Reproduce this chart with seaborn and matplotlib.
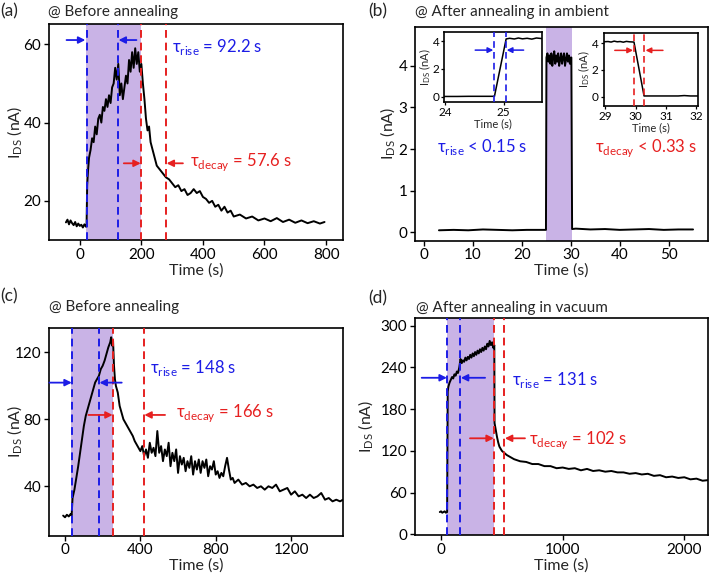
import matplotlib
matplotlib.use("Agg")
import matplotlib.pyplot as plt
import seaborn as sns

# ---------------- data ----------------
# (a) before annealing
t_a = [-45, -40, -35, -30, -25, -20, -15, -10, -5, 0, 5, 10, 15, 20, 22,
       24, 27, 30, 35, 40, 45, 50, 55, 60, 65, 70, 75, 80, 85, 90, 95, 100,
       105, 110, 115, 120, 125, 130, 135, 140, 145, 150, 155, 160, 165, 170,
       175, 180, 185, 190, 195, 200, 205, 210, 215, 220, 225, 230, 240, 250,
       260, 270, 280, 290, 300, 310, 320, 330, 340, 350, 360, 370, 380, 390,
       400, 410, 420, 430, 440, 450, 460, 470, 480, 490, 500, 520, 540, 560,
       580, 600, 620, 640, 660, 680, 700, 720, 740, 760, 780, 795]
i_a = [14.5, 15.2, 14.0, 15.0, 14.3, 13.8, 14.6, 13.5, 14.2, 13.6, 13.9, 13.2, 14.0, 13.4, 13.8,
       24, 28, 31, 33, 36, 35, 39, 37, 41, 42, 40, 44, 43, 46, 44, 47, 45,
       49, 50, 54, 51, 55, 47, 50, 46, 49, 52, 50, 56, 53, 58,
       54, 59, 55, 58, 53, 55, 50, 46, 41, 38, 39, 35, 32, 29,
       28, 27, 26, 25.5, 24.5, 23.5, 24, 22.5, 23, 21.5, 22, 23, 22, 22.5,
       21, 20.5, 19.5, 20, 18.5, 19, 17.5, 18.5, 17, 17.5, 16, 16.5, 15.5, 16,
       15, 15.5, 14.8, 15.6, 14.6, 15.2, 14.4, 15.0, 14.3, 14.8, 14.2, 14.6]

# (b) after annealing in ambient
t_b = [3, 6, 9, 12, 15, 18, 21, 24, 24.9,
       25.0, 25.2, 25.4, 25.6, 25.8, 26.0, 26.2, 26.4, 26.6, 26.8, 27.0, 27.2, 27.4,
       27.6, 27.8, 28.0, 28.2, 28.4, 28.6, 28.8, 29.0, 29.2, 29.4, 29.6, 29.8, 30.0, 30.1,
       30.25, 31, 34, 37, 40, 43, 46, 49, 52, 55]
i_b = [0.05, 0.06, 0.05, 0.07, 0.06, 0.05, 0.06, 0.06, 0.06,
       4.2, 4.3, 4.1, 4.25, 4.05, 4.3, 4.0, 4.2, 4.35, 4.05, 4.25, 4.1, 4.3,
       4.0, 4.15, 4.3, 4.05, 4.2, 4.3, 4.0, 4.15, 4.3, 4.1, 4.25, 4.05, 4.2, 4.2,
       0.08, 0.09, 0.07, 0.08, 0.06, 0.07, 0.08, 0.06, 0.07, 0.07]

# (b) insets: rise and decay edges
t_rise = [23.98, 24.2, 24.4, 24.6, 24.84, 25.04, 25.1, 25.18, 25.25, 25.32, 25.4, 25.48, 25.56, 25.65]
i_rise = [0.02, 0.02, 0.03, 0.03, 0.03, 4.15, 4.2, 4.15, 4.22, 4.16, 4.2, 4.14, 4.22, 4.18]
t_fall = [28.95, 29.1, 29.2, 29.3, 29.4, 29.5, 29.6, 29.7, 29.8, 29.95,
          30.28, 30.6, 31.0, 31.4, 31.6, 31.8, 32.05]
i_fall = [4.1, 4.12, 4.08, 4.15, 4.1, 4.12, 4.07, 4.13, 4.1, 4.08,
          0.05, 0.05, 0.05, 0.05, 0.08, 0.05, 0.05]

# (c) before annealing
t_c = [-10, 0, 10, 20, 30, 35, 40, 50, 60, 70, 80, 90, 100, 110, 120, 130, 140,
       150, 160, 170, 180, 190, 200, 210, 220, 230, 240, 245, 250, 255, 260, 265,
       270, 280, 290, 300, 310, 320, 330, 340, 350, 360, 370, 380, 390, 400,
       410, 420, 430, 440, 450, 460, 470, 480, 490, 500, 510, 520, 530, 540,
       550, 560, 570, 580, 590, 600, 610, 620, 630, 640, 650, 660, 670, 680,
       690, 700, 710, 720, 730, 740, 750, 760, 770, 780, 790, 800, 810, 820,
       830, 840, 850, 860, 870, 880, 890, 900, 920, 940, 960, 980, 1000, 1020,
       1040, 1060, 1080, 1100, 1120, 1140, 1160, 1180, 1200, 1220, 1240, 1260,
       1280, 1300, 1320, 1340, 1360, 1380, 1400, 1420, 1440, 1460, 1475]
i_c = [22.5, 21.5, 23, 22, 23.5, 22.5, 33, 38, 45, 52, 60, 68, 76, 82, 86, 90, 94,
       98, 102, 104, 106, 110, 112, 115, 119, 123, 126, 129, 124, 127, 112, 104,
       100, 96, 88, 84, 80, 78, 76, 74, 72, 70, 67, 65, 63, 61,
       64, 58, 62, 57, 66, 60, 63, 58, 73, 60, 64, 55, 62, 58,
       66, 52, 60, 55, 62, 48, 58, 53, 57, 49, 55, 51, 58, 47,
       55, 50, 56, 48, 55, 51, 56, 46, 52, 50, 55, 47, 49, 45,
       48, 46, 52, 57, 50, 44, 45, 42, 44, 41, 42, 40, 41, 39,
       40, 38, 40, 39, 41, 37, 38, 39, 35, 37, 34, 35,
       33, 35, 33, 34, 36, 32, 33, 31, 32, 31, 32]

# (d) after annealing in vacuum
t_d = [-10, 0, 10, 20, 30, 40, 50, 55, 60, 70, 80, 90, 100, 110, 120, 130, 140,
       150, 160, 170, 180, 190, 200, 210, 220, 230, 240, 250, 260, 270, 280, 290,
       300, 310, 320, 330, 340, 350, 360, 370, 380, 390, 400, 410, 420, 430, 438,
       440, 450, 460, 470, 480, 500, 520, 540, 560, 580, 600, 650, 700, 750, 800,
       850, 900, 950, 1000, 1050, 1100, 1150, 1200, 1250, 1300, 1350, 1400, 1450,
       1500, 1550, 1600, 1650, 1700, 1750, 1800, 1850, 1900, 1950, 2000, 2050,
       2100, 2150, 2200]
i_d = [32, 33, 31, 32, 33, 31, 32, 205, 212, 218, 222, 226, 224, 230, 228, 234, 232,
       240, 252, 246, 250, 248, 254, 250, 255, 252, 258, 254, 260, 256, 262, 258,
       264, 260, 266, 262, 268, 264, 270, 266, 274, 270, 278, 272, 276, 268, 272,
       160, 150, 140, 132, 126, 120, 117, 114, 112, 110, 108, 105, 104, 101, 101,
       98, 98, 95, 96, 94, 95, 92, 94, 91, 92, 90, 91, 89,
       89, 87, 88, 86, 87, 84, 85, 82, 83, 81, 82, 79,
       80, 77, 78]

# shading, dashed markers
light_a = (20, 200); rise_a = (22, 123); decay_a = (200, 279)
light_b = (25.0, 30.2)
light_c = (30, 256); rise_c = (38, 180); decay_c = (256, 418)
light_d = (52, 438); rise_d = (52, 159); decay_d = (438, 521)
in_rise_lines = (24.84, 25.03)
in_fall_lines = (29.95, 30.29)

BLUE = "#1c1ce6"
RED = "#e62020"
SHADE = "#c9b3e6"

sns.set_style("ticks")
plt.rcParams["font.family"] = ["Lato", "DejaVu Sans"]
plt.rcParams["mathtext.fontset"] = "custom"
plt.rcParams["mathtext.rm"] = "Lato"
plt.rcParams["xtick.direction"] = "out"
plt.rcParams["ytick.direction"] = "out"
plt.rcParams["axes.linewidth"] = 1.2
plt.rcParams["axes.edgecolor"] = "black"
plt.rcParams["xtick.color"] = "black"
plt.rcParams["ytick.color"] = "black"

fig = plt.figure(figsize=(7.09, 5.75), dpi=100)
W, H = 709, 575
YLAB = r"I$_\mathregular{DS}$ (nA)"


def box(x0, y0, x1, y1):
    return [x0 / W, 1 - y1 / H, (x1 - x0) / W, (y1 - y0) / H]


def trace(ax, t, i, lw=1.4):
    sns.lineplot(x=t, y=i, ax=ax, color="black", lw=lw, estimator=None, sort=False)


def vdash(ax, xs, color, lw=1.4):
    for x in xs:
        ax.axvline(x, color=color, ls=(0, (4, 2.5)), lw=lw, zorder=3)


def arrow(ax, start, end, color, lw=1.3, ms=10):
    ax.annotate("", xy=end, xytext=start,
                arrowprops=dict(arrowstyle="-|>", color=color, lw=lw,
                                mutation_scale=ms, shrinkA=0, shrinkB=0))


def style(ax, ylab_x, fs=11):
    ax.tick_params(labelsize=fs, length=3.5, width=1.0, pad=2)
    ax.set_xlabel("Time (s)", fontsize=fs + 0.5, labelpad=1)
    ax.set_ylabel(YLAB, fontsize=fs + 0.5, va="center")
    ax.yaxis.set_label_coords(ylab_x, 0.5)


def inset_style(ax, ylab_x, fs=8):
    ax.tick_params(labelsize=fs + 0.5, length=2.5, width=0.9, pad=1)
    ax.set_xlabel("Time (s)", fontsize=fs, labelpad=0)
    ax.set_ylabel(YLAB, fontsize=fs, va="center")
    ax.yaxis.set_label_coords(ylab_x, 0.5)


TFS = 12

# ---------------- (a) ----------------
ax = fig.add_axes(box(49, 24, 343, 240))
ax.axvspan(*light_a, color=SHADE, lw=0, zorder=0)
trace(ax, t_a, i_a)
vdash(ax, rise_a, BLUE)
vdash(ax, decay_a, RED)
arrow(ax, (-43, 61.1), (18, 61.1), BLUE)
arrow(ax, (184, 61.1), (126, 61.1), BLUE)
arrow(ax, (143, 29.6), (198, 29.6), RED)
arrow(ax, (335, 29.6), (282, 29.6), RED)
ax.text(298, 59.4, r"τ$_\mathregular{rise}$ = 92.2 s", color=BLUE, fontsize=TFS, va="center")
ax.text(357, 30, r"τ$_\mathregular{decay}$ = 57.6 s", color=RED, fontsize=TFS, va="center")
ax.set_xlim(-100, 855)
ax.set_ylim(10, 65.2)
ax.set_xticks([0, 200, 400, 600, 800])
ax.set_yticks([20, 40, 60])
style(ax, -0.115)

# ---------------- (b) ----------------
ax = fig.add_axes(box(415, 26.7, 707.7, 240.7))
ax.axvspan(*light_b, color=SHADE, lw=0, zorder=0)
trace(ax, t_b, i_b)
ax.text(2.7, 2.06, r"τ$_\mathregular{rise}$ < 0.15 s", color=BLUE, fontsize=TFS, va="center")
ax.text(35, 2.02, r"τ$_\mathregular{decay}$ < 0.33 s", color=RED, fontsize=TFS, va="center")
ax.set_xlim(-1.9, 58)
ax.set_ylim(-0.2, 4.94)
ax.set_xticks([0, 10, 20, 30, 40, 50])
ax.set_yticks([0, 1, 2, 3, 4])
style(ax, -0.092)

# insets of (b)
axi = fig.add_axes(box(444.3, 32.3, 541.7, 102.3))
trace(axi, t_rise, i_rise, lw=1.1)
vdash(axi, in_rise_lines, BLUE, lw=1.2)
arrow(axi, (24.51, 3.35), (24.82, 3.35), BLUE, lw=1.1, ms=8)
arrow(axi, (25.34, 3.35), (25.05, 3.35), BLUE, lw=1.1, ms=8)
axi.set_xlim(23.98, 25.65)
axi.set_ylim(-0.4, 4.63)
axi.set_xticks([24, 25])
axi.set_yticks([0, 2, 4])
inset_style(axi, -0.2)

axi = fig.add_axes(box(603.5, 32.7, 698, 106))
trace(axi, t_fall, i_fall, lw=1.1)
vdash(axi, in_fall_lines, RED, lw=1.2)
arrow(axi, (29.32, 3.46), (29.92, 3.46), RED, lw=1.1, ms=8)
arrow(axi, (30.9, 3.46), (30.33, 3.46), RED, lw=1.1, ms=8)
axi.set_xlim(28.95, 32.05)
axi.set_ylim(-0.7, 4.78)
axi.set_xticks([29, 30, 31, 32])
axi.set_yticks([0, 2, 4])
inset_style(axi, -0.2)

# ---------------- (c) ----------------
ax = fig.add_axes(box(49, 327.7, 342.7, 535.7))
ax.axvspan(*light_c, color=SHADE, lw=0, zorder=0)
trace(ax, t_c, i_c)
vdash(ax, rise_c, BLUE)
vdash(ax, decay_c, RED)
arrow(ax, (-83, 101.9), (36, 101.9), BLUE)
arrow(ax, (301, 101.9), (183, 101.9), BLUE)
arrow(ax, (124, 82.6), (253, 82.6), RED)
arrow(ax, (531, 82.6), (421, 82.6), RED)
ax.text(451, 110.4, r"τ$_\mathregular{rise}$ = 148 s", color=BLUE, fontsize=TFS, va="center")
ax.text(589, 83.6, r"τ$_\mathregular{decay}$ = 166 s", color=RED, fontsize=TFS, va="center")
ax.set_xlim(-85, 1474)
ax.set_ylim(10.5, 134.7)
ax.set_xticks([0, 400, 800, 1200])
ax.set_yticks([40, 80, 120])
style(ax, -0.116)

# ---------------- (d) ----------------
ax = fig.add_axes(box(415, 318.3, 708.3, 535))
ax.axvspan(*light_d, color=SHADE, lw=0, zorder=0)
trace(ax, t_d, i_d)
vdash(ax, rise_d, BLUE)
vdash(ax, decay_d, RED)
arrow(ax, (-159, 225), (48, 225), BLUE)
arrow(ax, (362, 225), (163, 225), BLUE)
arrow(ax, (238, 138), (434, 138), RED)
arrow(ax, (690, 138), (525, 138), RED)
ax.text(586, 222, r"τ$_\mathregular{rise}$ = 131 s", color=BLUE, fontsize=TFS, va="center")
ax.text(723, 135.7, r"τ$_\mathregular{decay}$ = 102 s", color=RED, fontsize=TFS, va="center")
ax.set_xlim(-214, 2197)
ax.set_ylim(-1, 310.5)
ax.set_xticks([0, 1000, 2000])
ax.set_yticks([0, 60, 120, 180, 240, 300])
style(ax, -0.165)

# ---------------- panel letters and titles ----------------
def ftext(x, y, s, fs=11):
    fig.text(x / W, 1 - y / H, s, fontsize=fs, va="center", ha="left")

ftext(0, 11.7, "(a)", 12.5)
ftext(48.3, 11.7, "@ Before annealing", 11)
ftext(368, 11.7, "(b)", 12.5)
ftext(415, 11.7, "@ After annealing in ambient", 11)
ftext(0, 296.7, "(c)", 12.5)
ftext(49.3, 306.7, "@ Before annealing", 11)
ftext(368, 298.3, "(d)", 12.5)
ftext(416, 307.7, "@ After annealing in vacuum", 11)

fig.savefig("out.png", dpi=100)
